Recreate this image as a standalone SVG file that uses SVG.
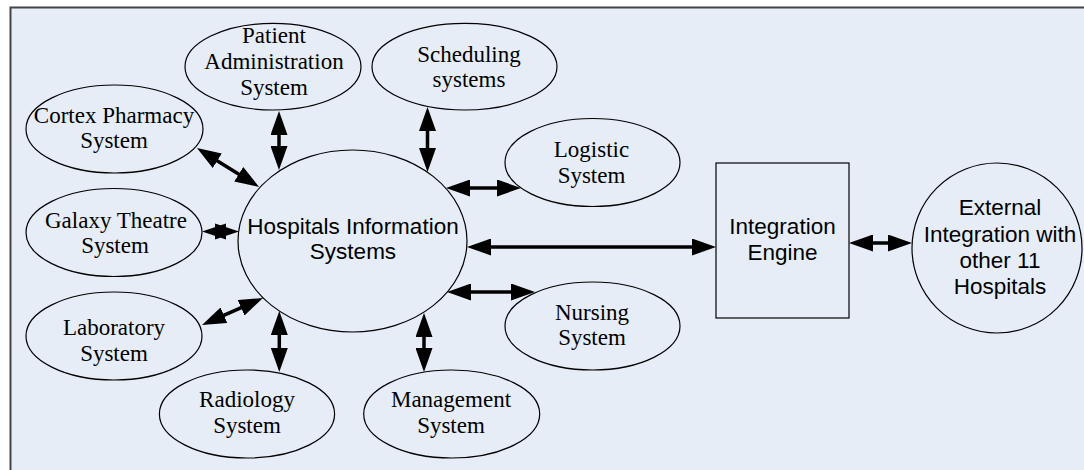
<svg xmlns="http://www.w3.org/2000/svg" width="1084" height="470" viewBox="0 0 1084 470">
<style>
.n{fill:none;stroke:#000;stroke-width:1.2}
.s{font-family:"Liberation Serif","Times New Roman",serif;font-size:23px;fill:#000;text-anchor:middle}
.a{font-family:"Liberation Sans",Arial,sans-serif;font-size:22.5px;fill:#000;text-anchor:middle}
.c{stroke:#000;stroke-width:3.5;fill:none;marker-start:url(#h);marker-end:url(#h)}
</style>
<defs>
<marker id="h" viewBox="0 0 24 17" refX="4" refY="8.5" markerWidth="24" markerHeight="17" markerUnits="userSpaceOnUse" orient="auto-start-reverse">
<path d="M0,0 L24,8.5 L0,17 z" fill="#000"/>
</marker>
</defs>
<rect x="0" y="0" width="1084" height="470" fill="#fff"/>
<rect x="10.5" y="7.5" width="1090" height="480" fill="#e6edf7" stroke="#444" stroke-width="2"/>

<g id="connectors">
<line class="c" x1="279" y1="131" x2="279" y2="150"/>
<line class="c" x1="427.5" y1="127" x2="427.5" y2="152"/>
<line class="c" x1="213.9" y1="158.7" x2="242.1" y2="176.3"/>
<line class="c" x1="466" y1="188" x2="501" y2="188"/>
<path d="M202,231.5 L226,223.5 L226,239.5 Z M239,231.5 L215,239.5 L215,223.5 Z" fill="#000" fill-rule="nonzero"/>
<line class="c" x1="487" y1="247" x2="696" y2="247"/>
<line class="c" x1="869" y1="243" x2="892" y2="243"/>
<line class="c" x1="220.3" y1="316.9" x2="244.7" y2="306.1"/>
<line class="c" x1="467" y1="292" x2="515" y2="292"/>
<line class="c" x1="279.3" y1="331" x2="279.3" y2="352"/>
<line class="c" x1="424" y1="333" x2="424" y2="352"/>
</g>

<g id="his">
<ellipse class="n" cx="352.5" cy="241" rx="114.5" ry="91"/>
<text class="a" x="353" y="234">Hospitals Information</text>
<text class="a" x="353" y="259">Systems</text>
</g>
<g id="patient">
<ellipse class="n" cx="273" cy="66.7" rx="88" ry="43.3"/>
<text class="s" x="274" y="43">Patient</text>
<text class="s" x="274" y="69">Administration</text>
<text class="s" x="274" y="95">System</text>
</g>
<g id="scheduling">
<ellipse class="n" cx="464.5" cy="66.7" rx="92.5" ry="43.3"/>
<text class="s" x="469" y="62">Scheduling</text>
<text class="s" x="469" y="87">systems</text>
</g>
<g id="cortex">
<ellipse class="n" cx="114.5" cy="129" rx="88.5" ry="44"/>
<text class="s" x="114" y="123">Cortex Pharmacy</text>
<text class="s" x="114" y="148">System</text>
</g>
<g id="logistic">
<ellipse class="n" cx="592.5" cy="162.5" rx="87.5" ry="44"/>
<text class="s" x="591.5" y="157">Logistic</text>
<text class="s" x="591.5" y="183">System</text>
</g>
<g id="galaxy">
<ellipse class="n" cx="114" cy="232.5" rx="88" ry="44"/>
<text class="s" x="116" y="228">Galaxy Theatre</text>
<text class="s" x="115" y="253">System</text>
</g>
<g id="laboratory">
<ellipse class="n" cx="114" cy="336" rx="88" ry="44"/>
<text class="s" x="114" y="335">Laboratory</text>
<text class="s" x="114" y="361">System</text>
</g>
<g id="radiology">
<ellipse class="n" cx="247" cy="414" rx="87.6" ry="44"/>
<text class="s" x="247" y="407">Radiology</text>
<text class="s" x="247" y="433">System</text>
</g>
<g id="management">
<ellipse class="n" cx="451.7" cy="414" rx="88" ry="44"/>
<text class="s" x="451" y="407">Management</text>
<text class="s" x="451" y="433">System</text>
</g>
<g id="nursing">
<ellipse class="n" cx="592.5" cy="326" rx="87.5" ry="44"/>
<text class="s" x="592" y="320">Nursing</text>
<text class="s" x="592" y="345">System</text>
</g>
<g id="integration">
<rect class="n" x="716" y="163" width="133" height="155"/>
<text class="a" x="782.5" y="234">Integration</text>
<text class="a" x="782.5" y="260">Engine</text>
</g>
<g id="external">
<circle class="n" cx="997" cy="248" r="85"/>
<text class="a" x="1000" y="215">External</text>
<text class="a" x="1000" y="242">Integration with</text>
<text class="a" x="1000" y="268">other 11</text>
<text class="a" x="1000" y="294">Hospitals</text>
</g>
</svg>
